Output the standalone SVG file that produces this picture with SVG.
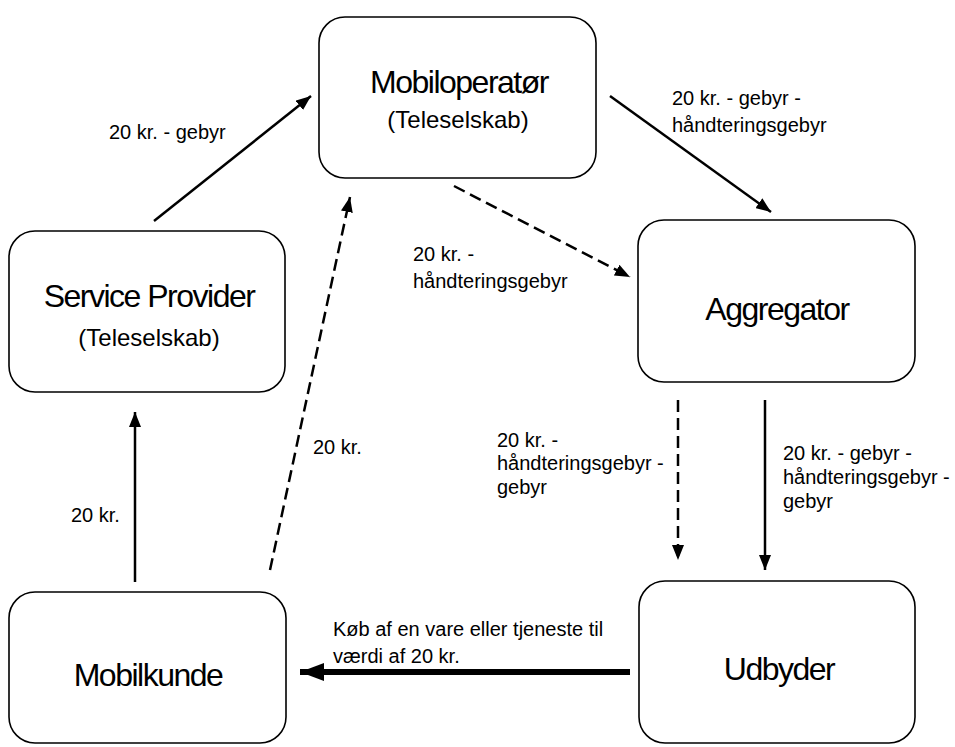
<svg xmlns="http://www.w3.org/2000/svg" width="955" height="747" viewBox="0 0 955 747">
<style>
.box{fill:#fff;stroke:#000;stroke-width:1.6}
.big{font-family:"Liberation Sans",Arial,sans-serif;font-size:32px;letter-spacing:-1.5px;text-anchor:middle;fill:#000}
.sub{font-family:"Liberation Sans",Arial,sans-serif;font-size:24px;text-anchor:middle;fill:#000}
.lbl{font-family:"Liberation Sans",Arial,sans-serif;font-size:20px;fill:#000}
.ln{stroke:#000;stroke-width:2.5;fill:none}
.dash{stroke-dasharray:12 6}
</style>
<defs>
<marker id="ah" markerUnits="userSpaceOnUse" markerWidth="15" markerHeight="12" refX="15" refY="6" orient="auto">
<path d="M0,0 L15,6 L0,12 z" fill="#000"/>
</marker>
<marker id="ahb" markerUnits="userSpaceOnUse" markerWidth="24" markerHeight="18" refX="24" refY="9" orient="auto">
<path d="M0,0 L24,9 L0,18 z" fill="#000"/>
</marker>
</defs>
<rect width="955" height="747" fill="#fff"/>
<g id="connectors">
<line class="ln" x1="154" y1="221" x2="311" y2="96" marker-end="url(#ah)"/>
<line class="ln" x1="610" y1="96" x2="771" y2="212" marker-end="url(#ah)"/>
<line class="ln dash" x1="454" y1="186" x2="630" y2="277" marker-end="url(#ah)"/>
<line class="ln dash" x1="270" y1="570" x2="350" y2="197" marker-end="url(#ah)"/>
<line class="ln" x1="135" y1="582" x2="135" y2="412" marker-end="url(#ah)"/>
<line class="ln dash" x1="678" y1="400" x2="678" y2="560" marker-end="url(#ah)"/>
<line class="ln" x1="765" y1="400" x2="765" y2="570" marker-end="url(#ah)"/>
<line stroke="#000" stroke-width="6" x1="630" y1="672" x2="300" y2="672" marker-end="url(#ahb)"/>
<text class="lbl" x="109" y="139">20 kr. - gebyr</text>
<text class="lbl" x="672" y="105">20 kr. - gebyr -</text>
<text class="lbl" x="672" y="132">håndteringsgebyr</text>
<text class="lbl" x="413" y="261">20 kr. -</text>
<text class="lbl" x="413" y="288">håndteringsgebyr</text>
<text class="lbl" x="313" y="454">20 kr.</text>
<text class="lbl" x="71" y="522">20 kr.</text>
<text class="lbl" x="497" y="447">20 kr. -</text>
<text class="lbl" x="497" y="470">håndteringsgebyr -</text>
<text class="lbl" x="497" y="494">gebyr</text>
<text class="lbl" x="783" y="460">20 kr. - gebyr -</text>
<text class="lbl" x="783" y="484">håndteringsgebyr -</text>
<text class="lbl" x="783" y="508">gebyr</text>
<text class="lbl" x="333" y="636">Køb af en vare eller tjeneste til</text>
<text class="lbl" x="333" y="663">værdi af 20 kr.</text>
</g>
<g id="mobiloperator">
<rect class="box" x="319" y="17" width="277" height="161" rx="26"/>
<text class="big" x="459" y="93">Mobiloperatør</text>
<text class="sub" x="458" y="128">(Teleselskab)</text>
</g>
<g id="serviceprovider">
<rect class="box" x="9" y="231" width="276" height="161" rx="26"/>
<text class="big" x="149" y="307">Service Provider</text>
<text class="sub" x="149" y="346">(Teleselskab)</text>
</g>
<g id="aggregator">
<rect class="box" x="638" y="220" width="277" height="162" rx="26"/>
<text class="big" x="777" y="320">Aggregator</text>
</g>
<g id="mobilkunde">
<rect class="box" x="9" y="592" width="277" height="151" rx="26"/>
<text class="big" x="148" y="686">Mobilkunde</text>
</g>
<g id="udbyder">
<rect class="box" x="639" y="581" width="276" height="162" rx="26"/>
<text class="big" x="779" y="680">Udbyder</text>
</g>
</svg>
